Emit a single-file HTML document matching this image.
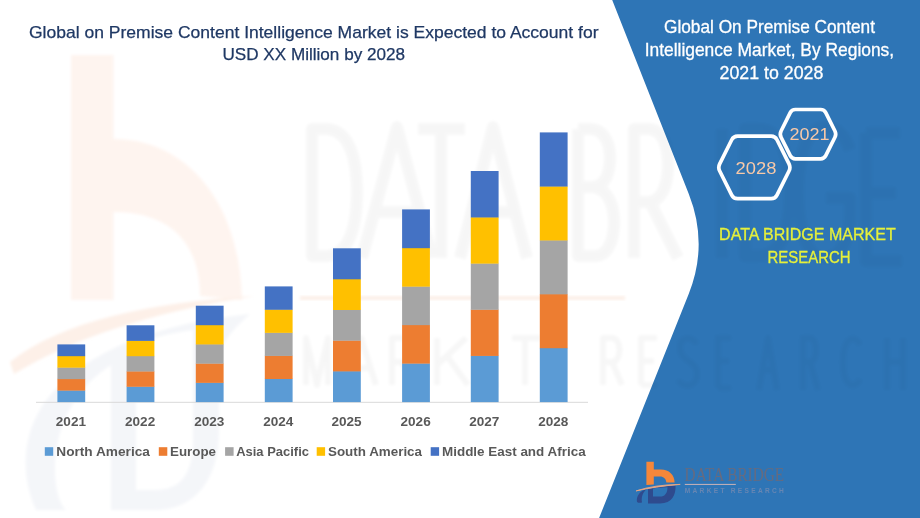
<!DOCTYPE html>
<html><head><meta charset="utf-8">
<style>
html,body{margin:0;padding:0;width:920px;height:518px;overflow:hidden;background:#fff}
svg{display:block;position:absolute;left:0;top:0;will-change:transform}
text{font-family:"Liberation Sans",sans-serif}
</style></head>
<body>
<svg width="920" height="518" viewBox="0 0 920 518">
<defs><clipPath id="bp"><path d="M612.2,0 L920,0 L920,518 L599.1,518 L688.7,294 Q708.6,244.2 688.8,194 Z"/></clipPath><filter id="bl" x="-10%" y="-10%" width="120%" height="120%"><feGaussianBlur stdDeviation="1.5"/></filter></defs>
<rect x="0" y="0" width="920" height="518" fill="#ffffff"/>

<g filter="url(#bl)">
<path d="M71,55 H113.5 V139 C185,139 240,200 242,300 L200,296 C200,245 172,212 113.5,212 V300 H71 Z" fill="#FEF4EF"/>
<path d="M10,362 C60,322 150,302 255,296 C150,312 70,340 14,374 Z" fill="#FDF0E8"/>
<path fill-rule="evenodd" d="M36,510 C18,470 22,420 60,385 C100,345 170,322 250,314 C232,330 219,345 219,360 V430 C219,480 195,510 155,510 Z M136,345 C150,338 170,333 193,330 V440 C193,475 180,490 155,490 H136 Z M111,365 C80,385 55,420 55,470 C55,490 60,505 66,510 H111 Z" fill="#F4F6F9"/>
</g>

<g fill="none" stroke="#000" stroke-linejoin="round" opacity="0.03" filter="url(#bl)">
<g stroke-width="12">
<path d="M312,129 V256 H325 C350,256 357,225 357,192 C357,160 350,129 325,129 Z"/>
<path d="M362,258 L397,127 L432,258 M374,212 H420"/>
<path d="M418,129 H465 M441,129 V258"/>
<path d="M460,258 L493,127 L527,258 M471,212 H516"/>
<path d="M578,129 V256 H595 C608,256 614,240 614,222 C614,200 604,187 592,187 H578 M592,187 C604,187 610,175 610,158 C610,140 602,129 590,129 H578"/>
<path d="M634,258 V129 H648 C662,129 668,145 668,165 C668,188 660,202 648,202 H634 M650,202 L678,258"/>
<path d="M722,129 V258"/>
<path d="M745,129 V256 H758 C783,256 790,225 790,192 C790,160 783,129 758,129 Z"/>
<path d="M850,150 C844,133 836,127 824,127 C806,127 798,160 798,192 C798,225 806,258 824,258 C840,258 850,240 850,215 V198 H826"/>
<path d="M866,133 V261 H902 M866,133 H900 M866,193 H896"/>
</g>
<g stroke-width="6">
<path d="M306,385 V338 L317,385 L328,338 V385"/>
<path d="M346,385 L361,338 L376,385 M351,368 H371"/>
<path d="M392,385 V338 H402 C412,338 412,362 402,362 H392 M402,362 L413,385"/>
<path d="M437,385 V338 M437,365 L466,338 M447,356 L468,385"/>
<path d="M478,385 V338 H498 M478,361 H495 M478,385 H498"/>
<path d="M525,338 V385 M512,338 H540"/>
<path d="M603,385 V338 H612 C622,338 622,362 612,362 H603 M612,362 L622,385"/>
<path d="M641,385 V338 H657 M641,361 H654 M641,385 H657"/>
<path d="M697,344 C690,335 680,337 680,348 C680,362 697,360 697,374 C697,388 683,388 678,380"/>
<path d="M718,388 V338 H731 M718,361 H729 M718,388 H731"/>
<path d="M759,390 L768,338 L777,390 M762,370 H774"/>
<path d="M803,390 V338 H810 C818,338 818,362 810,362 H803 M810,362 L818,390"/>
<path d="M860,345 C856,335 843,335 843,362 C843,389 856,389 860,379"/>
<path d="M887,338 V390 M903,338 V390 M887,362 H903"/>
</g>
</g>
<rect x="300" y="296" width="325" height="4" fill="#FCEFE8" filter="url(#bl)"/>
<g fill="#1F3864" stroke="#1F3864" stroke-width="0.25" font-size="17">
<text x="29" y="37.6" textLength="569.5" lengthAdjust="spacingAndGlyphs">Global on Premise Content Intelligence Market is Expected to Account for</text>
<text x="222.5" y="60.2" textLength="182.5" lengthAdjust="spacingAndGlyphs">USD XX Million by 2028</text>
</g>
<line x1="36" y1="402.3" x2="588" y2="402.3" stroke="#D9D9D9" stroke-width="1"/>
<rect x="57.4" y="390.32" width="27.8" height="11.78" fill="#5B9BD5"/>
<rect x="57.4" y="378.84" width="27.8" height="11.78" fill="#ED7D31"/>
<rect x="57.4" y="367.36" width="27.8" height="11.78" fill="#A5A5A5"/>
<rect x="57.4" y="355.88" width="27.8" height="11.78" fill="#FFC000"/>
<rect x="57.4" y="344.40" width="27.8" height="11.78" fill="#4472C4"/>
<rect x="126.6" y="386.50" width="27.8" height="15.60" fill="#5B9BD5"/>
<rect x="126.6" y="371.20" width="27.8" height="15.60" fill="#ED7D31"/>
<rect x="126.6" y="355.90" width="27.8" height="15.60" fill="#A5A5A5"/>
<rect x="126.6" y="340.60" width="27.8" height="15.60" fill="#FFC000"/>
<rect x="126.6" y="325.30" width="27.8" height="15.60" fill="#4472C4"/>
<rect x="195.8" y="382.58" width="27.8" height="19.52" fill="#5B9BD5"/>
<rect x="195.8" y="363.36" width="27.8" height="19.52" fill="#ED7D31"/>
<rect x="195.8" y="344.14" width="27.8" height="19.52" fill="#A5A5A5"/>
<rect x="195.8" y="324.92" width="27.8" height="19.52" fill="#FFC000"/>
<rect x="195.8" y="305.70" width="27.8" height="19.52" fill="#4472C4"/>
<rect x="264.8" y="378.72" width="27.8" height="23.38" fill="#5B9BD5"/>
<rect x="264.8" y="355.64" width="27.8" height="23.38" fill="#ED7D31"/>
<rect x="264.8" y="332.56" width="27.8" height="23.38" fill="#A5A5A5"/>
<rect x="264.8" y="309.48" width="27.8" height="23.38" fill="#FFC000"/>
<rect x="264.8" y="286.40" width="27.8" height="23.38" fill="#4472C4"/>
<rect x="333.0" y="371.10" width="27.8" height="31.00" fill="#5B9BD5"/>
<rect x="333.0" y="340.40" width="27.8" height="31.00" fill="#ED7D31"/>
<rect x="333.0" y="309.70" width="27.8" height="31.00" fill="#A5A5A5"/>
<rect x="333.0" y="279.00" width="27.8" height="31.00" fill="#FFC000"/>
<rect x="333.0" y="248.30" width="27.8" height="31.00" fill="#4472C4"/>
<rect x="402.1" y="363.32" width="27.8" height="38.78" fill="#5B9BD5"/>
<rect x="402.1" y="324.84" width="27.8" height="38.78" fill="#ED7D31"/>
<rect x="402.1" y="286.36" width="27.8" height="38.78" fill="#A5A5A5"/>
<rect x="402.1" y="247.88" width="27.8" height="38.78" fill="#FFC000"/>
<rect x="402.1" y="209.40" width="27.8" height="38.78" fill="#4472C4"/>
<rect x="470.8" y="355.64" width="27.8" height="46.46" fill="#5B9BD5"/>
<rect x="470.8" y="309.48" width="27.8" height="46.46" fill="#ED7D31"/>
<rect x="470.8" y="263.32" width="27.8" height="46.46" fill="#A5A5A5"/>
<rect x="470.8" y="217.16" width="27.8" height="46.46" fill="#FFC000"/>
<rect x="470.8" y="171.00" width="27.8" height="46.46" fill="#4472C4"/>
<rect x="539.8" y="347.92" width="27.8" height="54.18" fill="#5B9BD5"/>
<rect x="539.8" y="294.04" width="27.8" height="54.18" fill="#ED7D31"/>
<rect x="539.8" y="240.16" width="27.8" height="54.18" fill="#A5A5A5"/>
<rect x="539.8" y="186.28" width="27.8" height="54.18" fill="#FFC000"/>
<rect x="539.8" y="132.40" width="27.8" height="54.18" fill="#4472C4"/>
<g fill="#595959" font-size="13.3" font-weight="bold">
<text x="70.9" y="425.9" text-anchor="middle" textLength="30.2" lengthAdjust="spacingAndGlyphs">2021</text>
<text x="140.1" y="425.9" text-anchor="middle" textLength="30.2" lengthAdjust="spacingAndGlyphs">2022</text>
<text x="209.3" y="425.9" text-anchor="middle" textLength="30.2" lengthAdjust="spacingAndGlyphs">2023</text>
<text x="278.3" y="425.9" text-anchor="middle" textLength="30.2" lengthAdjust="spacingAndGlyphs">2024</text>
<text x="346.5" y="425.9" text-anchor="middle" textLength="30.2" lengthAdjust="spacingAndGlyphs">2025</text>
<text x="415.6" y="425.9" text-anchor="middle" textLength="30.2" lengthAdjust="spacingAndGlyphs">2026</text>
<text x="484.3" y="425.9" text-anchor="middle" textLength="30.2" lengthAdjust="spacingAndGlyphs">2027</text>
<text x="553.3" y="425.9" text-anchor="middle" textLength="30.2" lengthAdjust="spacingAndGlyphs">2028</text>
</g>
<g font-size="13" font-weight="bold" fill="#595959">
<rect x="44.8" y="447.2" width="8.4" height="8.6" fill="#5B9BD5"/>
<text x="56.3" y="455.9" textLength="93.6" lengthAdjust="spacingAndGlyphs">North America</text>
<rect x="158.8" y="447.2" width="8.5" height="8.6" fill="#ED7D31"/>
<text x="170" y="455.9" textLength="46" lengthAdjust="spacingAndGlyphs">Europe</text>
<rect x="225.1" y="447.2" width="8.5" height="8.6" fill="#A5A5A5"/>
<text x="236.2" y="455.9" textLength="72.8" lengthAdjust="spacingAndGlyphs">Asia Pacific</text>
<rect x="316.7" y="447.2" width="8.4" height="8.6" fill="#FFC000"/>
<text x="328" y="455.9" textLength="94" lengthAdjust="spacingAndGlyphs">South America</text>
<rect x="430.7" y="447.2" width="8.4" height="8.6" fill="#4472C4"/>
<text x="442" y="455.9" textLength="143.6" lengthAdjust="spacingAndGlyphs">Middle East and Africa</text>
</g>
<path d="M612.2,0 L920,0 L920,518 L599.1,518 L688.7,294 Q708.6,244.2 688.8,194 Z" fill="#2E75B6"/>
<g clip-path="url(#bp)"><g fill="none" stroke="#000" stroke-linejoin="round" opacity="0.022" filter="url(#bl)">
<g stroke-width="12">
<path d="M312,129 V256 H325 C350,256 357,225 357,192 C357,160 350,129 325,129 Z"/>
<path d="M362,258 L397,127 L432,258 M374,212 H420"/>
<path d="M418,129 H465 M441,129 V258"/>
<path d="M460,258 L493,127 L527,258 M471,212 H516"/>
<path d="M578,129 V256 H595 C608,256 614,240 614,222 C614,200 604,187 592,187 H578 M592,187 C604,187 610,175 610,158 C610,140 602,129 590,129 H578"/>
<path d="M634,258 V129 H648 C662,129 668,145 668,165 C668,188 660,202 648,202 H634 M650,202 L678,258"/>
<path d="M722,129 V258"/>
<path d="M745,129 V256 H758 C783,256 790,225 790,192 C790,160 783,129 758,129 Z"/>
<path d="M850,150 C844,133 836,127 824,127 C806,127 798,160 798,192 C798,225 806,258 824,258 C840,258 850,240 850,215 V198 H826"/>
<path d="M866,133 V261 H902 M866,133 H900 M866,193 H896"/>
</g>
<g stroke-width="6">
<path d="M306,385 V338 L317,385 L328,338 V385"/>
<path d="M346,385 L361,338 L376,385 M351,368 H371"/>
<path d="M392,385 V338 H402 C412,338 412,362 402,362 H392 M402,362 L413,385"/>
<path d="M437,385 V338 M437,365 L466,338 M447,356 L468,385"/>
<path d="M478,385 V338 H498 M478,361 H495 M478,385 H498"/>
<path d="M525,338 V385 M512,338 H540"/>
<path d="M603,385 V338 H612 C622,338 622,362 612,362 H603 M612,362 L622,385"/>
<path d="M641,385 V338 H657 M641,361 H654 M641,385 H657"/>
<path d="M697,344 C690,335 680,337 680,348 C680,362 697,360 697,374 C697,388 683,388 678,380"/>
<path d="M718,388 V338 H731 M718,361 H729 M718,388 H731"/>
<path d="M759,390 L768,338 L777,390 M762,370 H774"/>
<path d="M803,390 V338 H810 C818,338 818,362 810,362 H803 M810,362 L818,390"/>
<path d="M860,345 C856,335 843,335 843,362 C843,389 856,389 860,379"/>
<path d="M887,338 V390 M903,338 V390 M887,362 H903"/>
</g>
</g></g>
<g fill="#FFFFFF" stroke="#FFFFFF" stroke-width="0.3" font-size="17.9" text-anchor="middle">
<text x="769.5" y="33" textLength="211" lengthAdjust="spacingAndGlyphs">Global On Premise Content</text>
<text x="769.4" y="55.8" textLength="249.5" lengthAdjust="spacingAndGlyphs">Intelligence Market, By Regions,</text>
<text x="771.4" y="79" textLength="103.8" lengthAdjust="spacingAndGlyphs">2021 to 2028</text>
</g>
<g fill="none" stroke="#FFFFFF" stroke-width="3.7" stroke-linejoin="round">
<path d="M719.69,170.98 Q717.90,167.40 719.69,163.82 L731.74,139.73 Q733.52,136.15 737.52,136.15 L771.17,136.15 Q775.17,136.15 776.96,139.73 L789.01,163.82 Q790.80,167.40 789.01,170.98 L776.96,195.07 Q775.17,198.65 771.17,198.65 L737.52,198.65 Q733.52,198.65 731.74,195.07 Z"/>
<path d="M781.07,137.28 Q779.50,134.15 781.07,131.02 L790.26,112.63 Q791.83,109.50 795.33,109.50 L820.67,109.50 Q824.17,109.50 825.74,112.63 L834.93,131.02 Q836.50,134.15 834.93,137.28 L825.74,155.67 Q824.17,158.80 820.67,158.80 L795.33,158.80 Q791.83,158.80 790.26,155.67 Z"/>
</g>
<g fill="#F8C9A8" font-size="16.8" text-anchor="middle">
<text x="756" y="173.5" textLength="40.8" lengthAdjust="spacingAndGlyphs">2028</text>
<text x="809.6" y="140.3" textLength="40" lengthAdjust="spacingAndGlyphs">2021</text>
</g>
<g fill="#E6F03A" stroke="#E6F03A" stroke-width="0.3" font-size="16.8" text-anchor="middle">
<text x="807.4" y="240.1" textLength="176.6" lengthAdjust="spacingAndGlyphs">DATA BRIDGE MARKET</text>
<text x="809" y="262.8" textLength="83" lengthAdjust="spacingAndGlyphs">RESEARCH</text>
</g>

<path d="M646.4,485 V461.7 H653.8 V469.6 H661 C669,469.6 674.6,475 674.6,482.6 L666.3,482.6 C666.3,479 663.5,476.5 660,476.5 H653.8 V484.5 Z" fill="#F5873A"/>
<path fill-rule="evenodd" fill="#2E4B8E" d="M648,489 C656,487 666,486 675.5,485.5 C676,495 672,503.4 660,503.4 H648 Z M653,488.5 V496.5 H660 C665,496.5 667.5,493 667.5,487.2 C662,487.3 657,487.8 653,488.5 Z"/>
<path fill="#2E4B8E" d="M637,502 C636,496 640,491 647,488.8 C643,492 641,497 642,502.5 C640.5,503 638,503 637,502 Z"/>
<path d="M636.2,490.9 Q655,484.6 680.2,484.4 Q655,486.4 636.2,490.9 Z" fill="#E8A683" stroke="#E8A683" stroke-width="0.9"/>
<text x="684.6" y="481.1" style="font-family:'Liberation Serif',serif" font-size="18.6" textLength="99.6" lengthAdjust="spacingAndGlyphs" fill="#666B80">DATA BRIDGE</text>
<rect x="684.8" y="483.9" width="51" height="1.1" fill="#BDADB6"/>
<text x="684.8" y="493.2" font-family="Liberation Sans" font-size="6.6" font-weight="bold" textLength="99" lengthAdjust="spacing" fill="#7189B2" opacity="0.85">MARKET RESEARCH</text>

</svg>
</body></html>
